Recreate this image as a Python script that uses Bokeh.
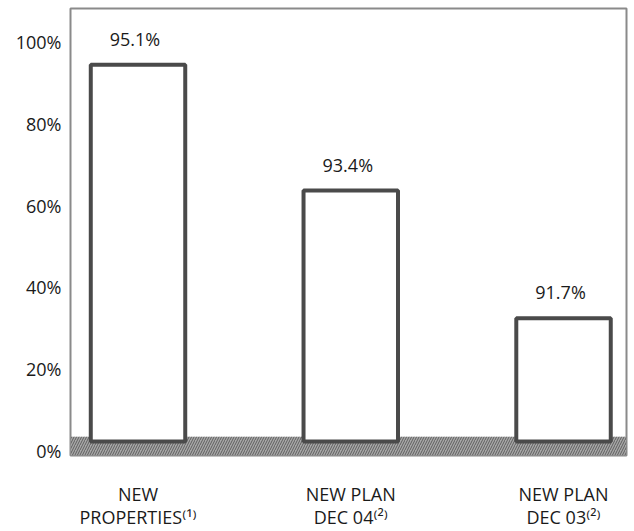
from bokeh.plotting import figure
from bokeh.models import ColumnDataSource, FixedTicker, Range1d, LinearAxis
from bokeh.embed import file_html
from bokeh.resources import INLINE
from bokeh.core.properties import value

categories_line1 = ["NEW", "NEW PLAN", "NEW PLAN"]
categories_line2 = ["PROPERTIES\u207d\u00b9\u207e", "DEC 04\u207d\u00b2\u207e", "DEC 03\u207d\u00b2\u207e"]
bar_heights = [94.5, 63.7, 32.4]
value_labels = ["95.1%", "93.4%", "91.7%"]
y_ticks = [0, 20, 40, 60, 80, 100]
y_tick_labels = ["0%", "20%", "40%", "60%", "80%", "100%"]

FONT = "Open Sans"
FS = "18px"
TXT = "#1a1a1a"
xs = list(range(len(categories_line1)))

src = ColumnDataSource(dict(x=xs, top=bar_heights, lab=value_labels))

p = figure(width=634, height=531, output_backend="svg", toolbar_location=None,
           x_range=Range1d(-0.3173, 2.296), y_range=Range1d(-1.22, 108.29),
           x_axis_location=None,
           min_border_left=70, min_border_right=8, min_border_top=8, min_border_bottom=74)
p.background_fill_color = "white"
p.border_fill_color = "white"
p.outline_line_color = "#8a8a8a"
p.outline_line_width = 2
p.xgrid.visible = False
p.ygrid.visible = False

# base band
p.quad(left=-0.3173, right=2.296, bottom=-1.22, top=3.4,
       fill_color="#a8a8a8", line_color=None,
       hatch_pattern="right_diagonal_line", hatch_color="#5e5e5e", hatch_scale=5, hatch_weight=1)

p.vbar(x="x", top="top", bottom=2.2, width=0.444, source=src,
       fill_color="white", line_color="#4a4a4a", line_width=4)

p.text(x="x", y="top", text="lab", source=src, y_offset=-26, x_offset=-3,
       text_align="center", text_baseline="middle",
       text_font=value(FONT), text_font_size=FS, text_color=TXT)

p.yaxis.ticker = FixedTicker(ticks=y_ticks)
p.yaxis.major_label_overrides = {t: l for t, l in zip(y_ticks, y_tick_labels)}
p.yaxis.axis_line_color = None
p.yaxis.major_tick_line_color = None
p.yaxis.minor_tick_line_color = None
p.yaxis.major_label_standoff = 3
p.yaxis.major_label_text_font = FONT
p.yaxis.major_label_text_font_size = FS
p.yaxis.major_label_text_color = TXT

def cat_axis(labels, standoff):
    ax = LinearAxis(ticker=FixedTicker(ticks=xs),
                    major_label_overrides={x: c for x, c in zip(xs, labels)})
    ax.axis_line_color = None
    ax.major_tick_line_color = None
    ax.minor_tick_line_color = None
    ax.major_tick_out = 0
    ax.major_tick_in = 0
    ax.major_label_standoff = standoff
    ax.major_label_text_font = FONT
    ax.major_label_text_font_size = FS
    ax.major_label_text_color = TXT
    return ax

p.add_layout(cat_axis(categories_line1, 26), "below")
p.add_layout(cat_axis(categories_line2, -4), "below")

open("out.html", "w").write(file_html(p, INLINE))
